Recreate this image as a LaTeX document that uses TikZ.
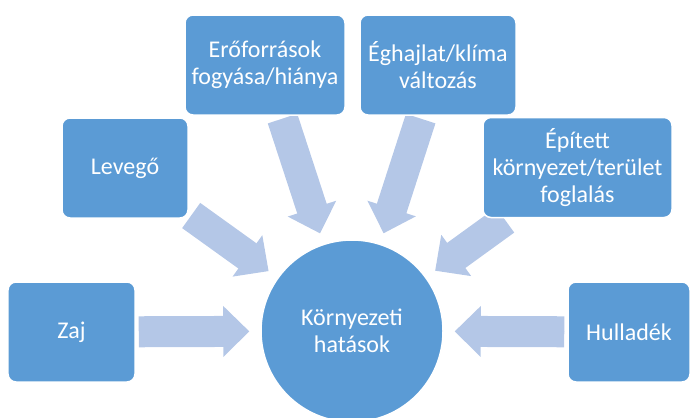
\documentclass[tikz,border=0pt]{standalone}
\usepackage{fontspec}
\setmainfont{Carlito}
\usetikzlibrary{arrows.meta,backgrounds}
\definecolor{boxblue}{HTML}{5B9BD5}
\definecolor{arrowblue}{HTML}{B4C7E7}
\tikzset{
  topic/.style={draw=white, line width=1.5bp, fill=boxblue, rounded corners=8bp,
    minimum height=100bp, text=white, align=center,
    font=\fontsize{24bp}{27bp}\selectfont},
  centre/.style={circle, draw=white, line width=1.5bp, fill=boxblue,
    minimum size=182bp, text=white, align=center,
    font=\fontsize{24bp}{27bp}\selectfont},
  % shaft runs a little into the head, the head is added on top
  flow/.style={draw=arrowblue, line width=31bp,
    shorten <=3bp, shorten >=30bp,
    postaction={draw=arrowblue, line width=0.1bp, shorten >=11bp,
      -{Triangle[length=26bp,width=51bp,line width=0pt]}}}
}
\begin{document}
\begin{tikzpicture}[x=1bp,y=-1bp]
    \useasboundingbox (0,0) rectangle (690,417);

    \node[centre] (hatas) at (352,331) {Környezeti\\hatások};

    \node[topic,minimum width=127bp] (zaj) at (71.5,332) {Zaj};
    \node[topic,minimum width=126bp] (levego) at (125,168) {Levegő};
    \node[topic,minimum width=160bp] (eroforras) at (265,65) {Erőforrások\\fogyása/hiánya};
    \node[topic,minimum width=156bp] (eghajlat) at (438,65) {Éghajlat/klíma\\változás};
    \node[topic,minimum width=189bp] (epitett) at (577.5,167.5) {Épített\\környezet/terület\\foglalás};
    \node[topic,minimum width=122bp] (hulladek) at (629,332) {Hulladék};

    \begin{scope}[on background layer]
        \draw[flow] (zaj) -- (hatas);
        \draw[flow] (levego) -- (hatas);
        \draw[flow] (eroforras) -- (hatas);
        \draw[flow] (eghajlat) -- (hatas);
        \draw[flow] (epitett) -- (hatas);
        \draw[flow] (hulladek) -- (hatas);
    \end{scope}
\end{tikzpicture}
\end{document}
